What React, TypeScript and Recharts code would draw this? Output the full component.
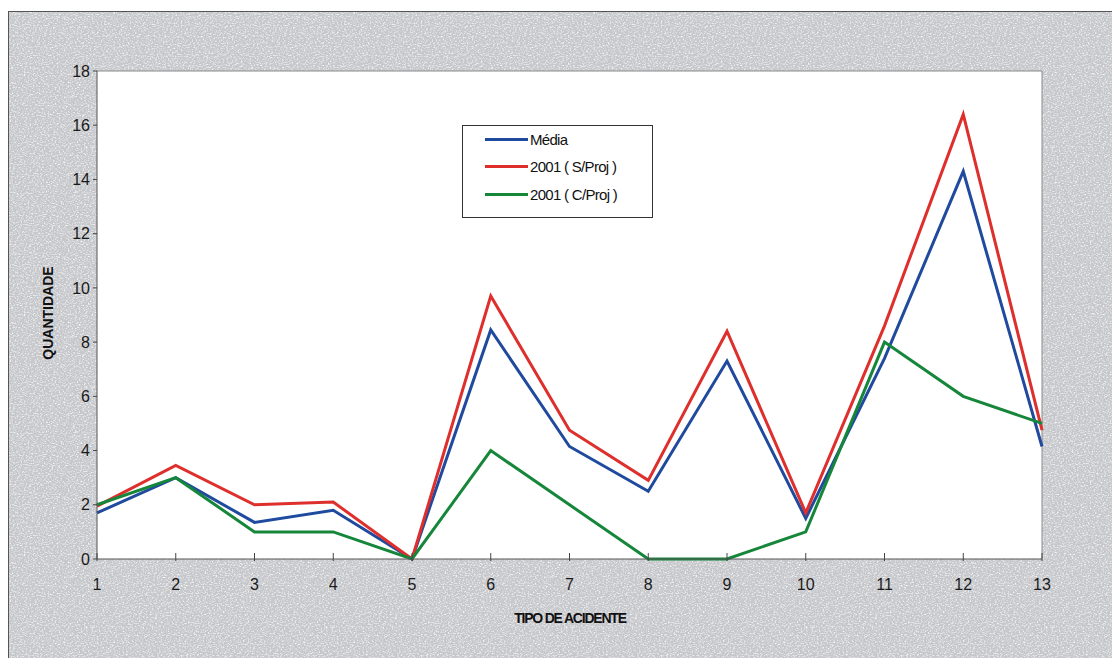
import React from "react";
import {
  LineChart,
  Line,
  XAxis,
  YAxis,
  CartesianGrid,
  ReferenceLine,
  Label,
} from "recharts";

// Tipos de acidente (categorias do eixo X)
const tipos = ["1", "2", "3", "4", "5", "6", "7", "8", "9", "10", "11", "12", "13"];

// Quantidade média por tipo
const media = [1.7, 3.0, 1.35, 1.8, 0, 8.45, 4.15, 2.5, 7.3, 1.5, 7.4, 14.3, 4.15];
// 2001 sem projeto
const semProj = [1.95, 3.45, 2.0, 2.1, 0, 9.7, 4.75, 2.9, 8.4, 1.7, 8.6, 16.4, 4.75];
// 2001 com projeto
const comProj = [2, 3, 1, 1, 0, 4, 2, 0, 0, 1, 8, 6, 5];

const yTicks = [0, 2, 4, 6, 8, 10, 12, 14, 16, 18];

const seriesInfo = [
  { key: "media", name: "Média", color: "#1f4a9e" },
  { key: "semProj", name: "2001 ( S/Proj )", color: "#de2f2c" },
  { key: "comProj", name: "2001 ( C/Proj )", color: "#15863a" },
];

const data = tipos.map((t, i) => ({
  tipo: t,
  media: media[i],
  semProj: semProj[i],
  comProj: comProj[i],
}));

const FONT = "Arial, 'Liberation Sans', sans-serif";

const W = 1112;
const H = 647;

const noiseSvg =
  "<svg xmlns='http://www.w3.org/2000/svg' width='240' height='240'>" +
  "<filter id='n'><feTurbulence type='fractalNoise' baseFrequency='0.55 0.9' numOctaves='2' seed='3' stitchTiles='stitch'/>" +
  "<feColorMatrix values='0 0 0 0 1  0 0 0 0 1  0 0 0 0 1  2.2 0 0 0 -1.0'/></filter>" +
  "<rect width='100%' height='100%' filter='url(%23n)'/></svg>";
const noiseUrl = `url("data:image/svg+xml,${noiseSvg.replace(/#/g, "%23")}")`;

const XTick = (props: any) => {
  const { x, y, payload } = props;
  return (
    <g>
      <line x1={x} x2={x} y1={y - 6} y2={y + 2} stroke="#444" strokeWidth={1} />
      <text x={x} y={y + 31} textAnchor="middle" fontSize={16} fill="#1a1a1a" fontFamily={FONT}>
        {payload.value}
      </text>
    </g>
  );
};

const LegendBox = () => (
  <div
    style={{
      position: "absolute",
      left: 454,
      top: 114,
      width: 189,
      height: 91,
      border: "1px solid #333",
      background: "#fff",
      fontFamily: FONT,
      fontSize: 15,
      color: "#111",
    }}
  >
    {seriesInfo.map((s, i) => (
      <div
        key={s.key}
        style={{
          position: "absolute",
          left: 22,
          top: 3 + i * 27.5,
          height: 20,
          display: "flex",
          alignItems: "center",
          letterSpacing: -0.7,
          whiteSpace: "nowrap",
        }}
      >
        <span
          style={{ display: "inline-block", width: 43, height: 3, background: s.color, marginRight: 2 }}
        />
        <span>{s.name}</span>
      </div>
    ))}
  </div>
);

export default function App() {
  return (
    <div
      style={{
        marginTop: 3,
        width: W,
        height: H,
        backgroundColor: "#c6c7cb",
        backgroundImage: noiseUrl,
        boxShadow: "inset 1px 1px 0 #555",
        position: "relative",
      }}
    >
      <LineChart
        width={W}
        height={H}
        data={data}
        margin={{ top: 60, right: 78, bottom: 69, left: 49 }}
      >
        <CartesianGrid horizontal={false} vertical={false} fill="#ffffff" fillOpacity={1} />
        <ReferenceLine y={18} stroke="#8a8a8a" strokeWidth={1} ifOverflow="visible" />
        <ReferenceLine x="13" stroke="#8a8a8a" strokeWidth={1} ifOverflow="visible" />
        <XAxis
          dataKey="tipo"
          interval={0}
          tickSize={0}
          tickMargin={0}
          tickLine={false}
          tick={<XTick />}
          axisLine={{ stroke: "#555", strokeWidth: 1 }}
          height={30}
          padding={{ left: 0, right: 0 }}
        >
          <Label
            content={() => (
              <text
                x={562}
                y={612}
                textAnchor="middle"
                fontFamily={FONT}
                fontWeight="bold"
                fontSize={14}
                letterSpacing={-1.2}
                fill="#111"
              >
                TIPO DE ACIDENTE
              </text>
            )}
          />
        </XAxis>
        <YAxis
          domain={[0, 18]}
          ticks={yTicks}
          interval={0}
          width={40}
          tickSize={4}
          tickMargin={3}
          tick={{ fontSize: 16, fill: "#1a1a1a", fontFamily: FONT }}
          tickLine={{ stroke: "#444" }}
          axisLine={{ stroke: "#555", strokeWidth: 1 }}
        >
          <Label
            content={() => (
              <text
                x={45}
                y={302}
                transform="rotate(-90 45 302)"
                textAnchor="middle"
                fontFamily={FONT}
                fontWeight="bold"
                fontSize={14}
                fill="#111"
              >
                QUANTIDADE
              </text>
            )}
          />
        </YAxis>
        {seriesInfo.map((s) => (
          <Line
            key={s.key}
            type="linear"
            dataKey={s.key}
            name={s.name}
            stroke={s.color}
            strokeWidth={3}
            dot={false}
            activeDot={false}
            isAnimationActive={false}
          />
        ))}
      </LineChart>
      <LegendBox />
    </div>
  );
}
